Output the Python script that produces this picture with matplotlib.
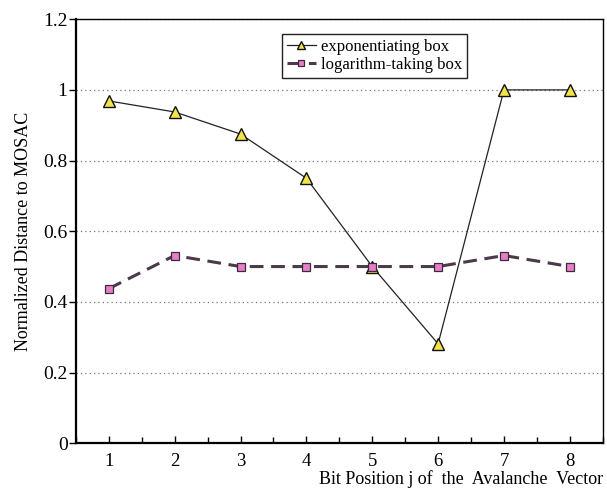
import numpy as np
import matplotlib
matplotlib.use("Agg")
import matplotlib.pyplot as plt
from matplotlib.ticker import MultipleLocator

plt.rcParams["font.family"] = ["Liberation Serif", "DejaVu Serif"]

# data
bit_pos = [1, 2, 3, 4, 5, 6, 7, 8]
exp_box = [0.96875, 0.9375, 0.875, 0.75, 0.5, 0.28125, 1.0, 1.0]
log_box = [0.4375, 0.53125, 0.5, 0.5, 0.5, 0.5, 0.53125, 0.5]
y_ticks = [0, 0.2, 0.4, 0.6, 0.8, 1.0, 1.2]
y_labels = ["0", "0.2", "0.4", "0.6", "0.8", "1", "1.2"]

fig = plt.figure(figsize=(6.07, 4.93), dpi=100)
ax = fig.add_axes([0.125, 0.101, 0.868, 0.860])

# dotted horizontal grid
for yv in y_ticks[1:]:
    ax.axhline(yv, color="#777777", linestyle=(0, (1, 2.5)), linewidth=0.9, zorder=0)

ax.plot(bit_pos, exp_box, color="#222222", linewidth=0.9, marker="^",
        markersize=8, markerfacecolor="#f2e34a", markeredgecolor="#111111",
        markeredgewidth=1.0, label="exponentiating box", zorder=3)
ax.plot(bit_pos, log_box, color="#4b3a4a", linewidth=2.2, dashes=(4.5, 2.5),
        marker="s", markersize=5.5, markerfacecolor="#e77fc8",
        markeredgecolor="#3a2a3a", markeredgewidth=0.9,
        label="logarithm-taking box", zorder=3)

ax.set_xlim(0.5, 8.5)
ax.set_ylim(0, 1.2)
ax.xaxis.set_major_locator(MultipleLocator(1))
ax.xaxis.set_minor_locator(MultipleLocator(0.5))
ax.set_yticks(y_ticks)
ax.set_yticklabels(y_labels)

ax.tick_params(axis="x", which="both", direction="in", length=5, width=1,
               labelsize=13.5, pad=7, top=False)
ax.tick_params(axis="x", which="minor", length=4)
ax.tick_params(axis="y", which="major", direction="out", length=5, width=1,
               labelsize=14, pad=1, right=False)

for side in ["left", "bottom"]:
    ax.spines[side].set_linewidth(1.6)
for side in ["top", "right"]:
    ax.spines[side].set_linewidth(1.0)

ax.set_ylabel("Normalized Distance to MOSAC", fontsize=13, labelpad=8)
ax.set_xlabel("Bit Position j of  the  Avalanche  Vector", fontsize=13,
              loc="right", labelpad=0)

leg = ax.legend(loc="upper left", bbox_to_anchor=(0.376, 0.985), fontsize=12,
                handlelength=1.7, handletextpad=0.3, borderpad=0.3,
                labelspacing=0.1, fancybox=False, framealpha=1,
                edgecolor="#222222", markerscale=0.8)
leg.get_frame().set_linewidth(1.0)

fig.savefig("out.png", dpi=100)
